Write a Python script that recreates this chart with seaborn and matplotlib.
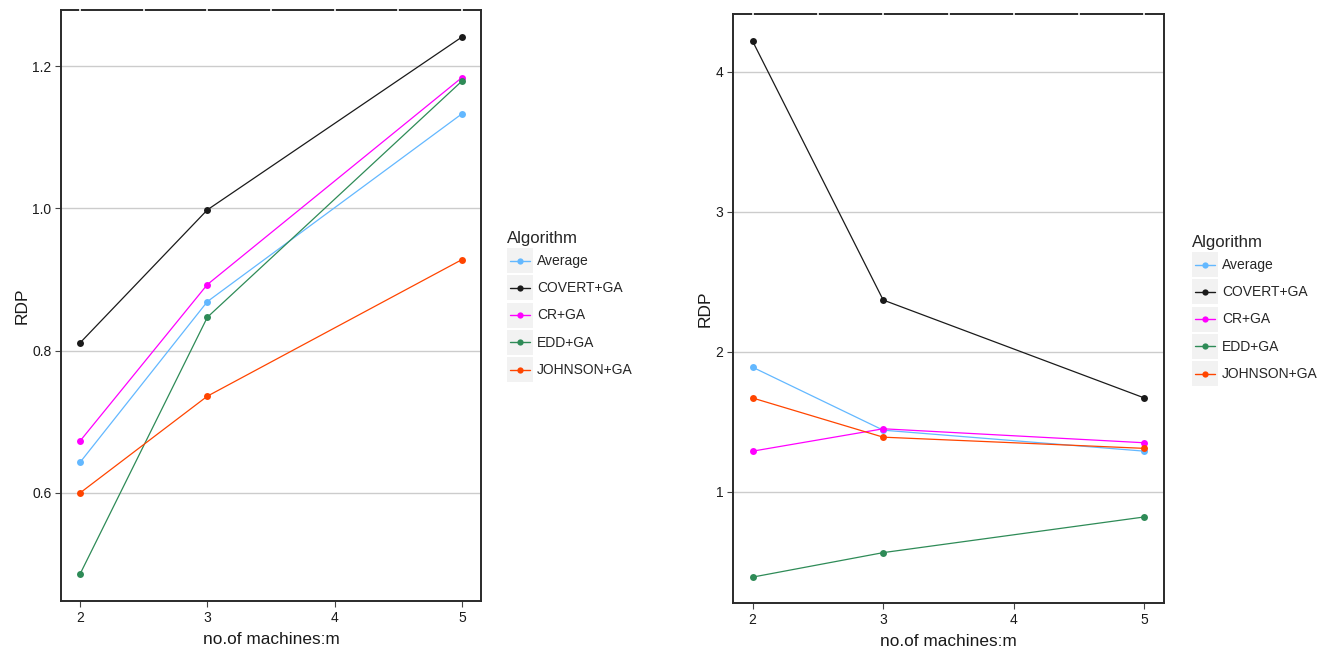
import matplotlib
matplotlib.use("Agg")
import matplotlib.pyplot as plt
import seaborn as sns
import pandas as pd
from matplotlib.legend_handler import HandlerBase
from matplotlib.patches import Rectangle
from matplotlib.lines import Line2D

machines = [2, 3, 5]
algorithms = ["Average", "COVERT+GA", "CR+GA", "EDD+GA", "JOHNSON+GA"]
colors = ["#63B8FF", "#1A1A1A", "#FF00FF", "#2E8B57", "#FF4500"]

left_average = [0.643, 0.869, 1.133]
left_covert = [0.811, 0.998, 1.241]
left_cr = [0.673, 0.893, 1.184]
left_edd = [0.486, 0.847, 1.179]
left_johnson = [0.600, 0.736, 0.928]

right_average = [1.89, 1.44, 1.29]
right_covert = [4.22, 2.37, 1.67]
right_cr = [1.29, 1.45, 1.35]
right_edd = [0.39, 0.565, 0.82]
right_johnson = [1.67, 1.39, 1.31]

xticks = [2, 3, 4, 5]
minor_x = [2.5, 3.5, 4.5]
left_yticks = [0.6, 0.8, 1.0, 1.2]
right_yticks = [1, 2, 3, 4]


def make_df(series):
    rows = []
    for alg, vals in zip(algorithms, series):
        for m, v in zip(machines, vals):
            rows.append({"m": m, "RDP": v, "Algorithm": alg})
    return pd.DataFrame(rows)


df_left = make_df([left_average, left_covert, left_cr, left_edd, left_johnson])
df_right = make_df([right_average, right_covert, right_cr, right_edd, right_johnson])

sns.set_theme(style="white")
plt.rcParams["font.family"] = ["Liberation Sans", "DejaVu Sans"]

W, H = 1332, 651
fig = plt.figure(figsize=(W / 100, H / 100), dpi=100)


def box(x0, y0, x1, y1):
    return [x0 / W, 1 - y1 / H, (x1 - x0) / W, (y1 - y0) / H]


ax1 = fig.add_axes(box(61, 10, 481, 601))
ax2 = fig.add_axes(box(733, 14, 1164, 603))

palette = dict(zip(algorithms, colors))


class KeyHandler(HandlerBase):
    def create_artists(self, legend, orig_handle, xdescent, ydescent,
                       width, height, fontsize, trans):
        x0, y0 = -xdescent, -ydescent
        rect = Rectangle((x0, y0), width, height,
                         facecolor="#F2F2F2", edgecolor="none", transform=trans)
        yc = y0 + height / 2
        line = Line2D([x0 + 2, x0 + width - 2], [yc, yc],
                      color=orig_handle.get_color(), linewidth=1.0, transform=trans)
        mark = Line2D([x0 + width / 2], [yc], color=orig_handle.get_color(),
                      marker="o", markersize=4.5, markeredgewidth=0,
                      linestyle="none", transform=trans)
        return [rect, line, mark]


for ax, df, yticks, ylim, lx, ly in [
    (ax1, df_left, left_yticks, (0.448, 1.279), 507, 231),
    (ax2, df_right, right_yticks, (0.205, 4.414), 1192, 235),
]:
    sns.lineplot(data=df, x="m", y="RDP", hue="Algorithm", hue_order=algorithms,
                 palette=palette, marker="o", markersize=5, markeredgewidth=0,
                 linewidth=0.9, ax=ax, legend=False)
    ax.set_xlim(1.85, 5.15)
    ax.set_ylim(*ylim)
    ax.set_xticks(xticks)
    ax.set_xticklabels([str(t) for t in xticks])
    ax.set_yticks(yticks)
    ax.set_yticklabels([f"{t:.1f}" if isinstance(t, float) else str(t) for t in yticks])
    ax.yaxis.grid(True, color="#CCCCCC", linewidth=1.0)
    ax.xaxis.grid(False)
    ax.set_axisbelow(True)
    for s in ax.spines.values():
        s.set_visible(True)
        s.set_color("#2A2A2A")
        s.set_linewidth(1.4)
    # white vertical grid traces breaking the top border, as in the reference
    ax.vlines(xticks + minor_x, 0.985, 1.01, colors="white", linewidth=1.2,
              transform=ax.get_xaxis_transform(), clip_on=False, zorder=5)
    ax.tick_params(axis="both", which="major", direction="out", length=4, width=0.8,
                   color="#444444", labelsize=10, labelcolor="#1A1A1A", pad=3,
                   bottom=True, left=True)
    ax.set_xlabel("no.of machines:m", fontsize=12.4, color="#1A1A1A", labelpad=5)
    ax.set_ylabel("RDP", fontsize=12.5, color="#1A1A1A", labelpad=2)

    handles = [Line2D([0], [0], color=c) for c in colors]
    leg = fig.legend(handles, algorithms, title="Algorithm", loc="upper left",
                     bbox_to_anchor=(lx / W, 1 - ly / H), frameon=False,
                     fontsize=10, title_fontsize=12.1, handlelength=1.87,
                     handleheight=2.39, labelspacing=0.16, handletextpad=0.3,
                     borderpad=0, borderaxespad=0, alignment="left",
                     handler_map={Line2D: KeyHandler()})

fig.savefig("out.png", dpi=100, facecolor="white")
